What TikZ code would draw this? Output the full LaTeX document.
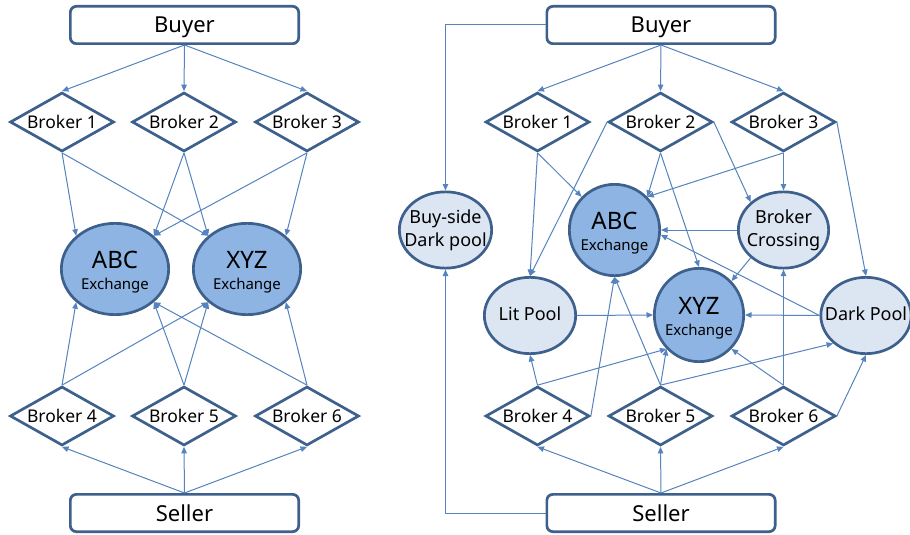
\documentclass[tikz,border=0pt]{standalone}
\usepackage{fontspec}
\setmainfont{Noto Sans}
\usetikzlibrary{shapes.geometric,arrows.meta}

\definecolor{edgeblue}{RGB}{62,96,140}
\definecolor{linkblue}{RGB}{84,131,190}
\definecolor{exfill}{RGB}{141,180,226}
\definecolor{poolfill}{RGB}{220,230,242}

% centred text of zero width, so the shape keeps its own size
\newcommand{\ctrtext}[1]{\makebox[0pt]{\begin{tabular}{@{}c@{}}#1\end{tabular}}}

\begin{document}
\begin{tikzpicture}[x=1pt,y=-1pt,
  party/.style={draw=edgeblue, line width=2.7pt, rounded corners=6pt, fill=white,
    minimum width=228.3pt, minimum height=37.3pt, inner sep=0pt, text depth=0pt,
    font=\fontsize{22}{26}\selectfont},
  broker/.style={diamond, aspect=1.75, draw=edgeblue, line width=2.7pt, fill=white,
    minimum width=104pt, minimum height=59pt, inner sep=0pt,
    font=\fontsize{17.5}{20}\selectfont},
  exch/.style={ellipse, draw=edgeblue, line width=2.7pt, fill=exfill, inner sep=0pt,
    font=\fontsize{15}{21}\selectfont},
  pool/.style={ellipse, draw=edgeblue, line width=2.7pt, fill=poolfill, inner sep=0pt,
    minimum width=90.3pt, minimum height=76.3pt, font=\fontsize{18}{23}\selectfont},
  conn/.style={draw=linkblue, line width=1pt, -{Triangle[length=6.5pt,width=5.5pt]}},
]
\useasboundingbox (0,0) rectangle (910,535);

\newcommand{\exlabel}[1]{\ctrtext{\rule{0pt}{26pt}{\fontsize{24}{24}\selectfont #1}\\Exchange}}

% ---------------- direct market ----------------
\node[party] (buyL) at (184.5,25) {Buyer};
\node[party] (sellL) at (184.5,513) {Seller};

\node[broker] (b1) at (62,122) {Broker 1};
\node[broker] (b2) at (184,122) {Broker 2};
\node[broker] (b3) at (307,122) {Broker 3};
\node[broker] (b4) at (62,416) {Broker 4};
\node[broker] (b5) at (184,416) {Broker 5};
\node[broker] (b6) at (307,416) {Broker 6};

\node[exch, minimum width=107.3pt, minimum height=91.3pt] (abcL) at (115,269) {\exlabel{ABC}};
\node[exch, minimum width=107.3pt, minimum height=91.3pt] (xyzL) at (247,269) {\exlabel{XYZ}};

\foreach \b in {b1,b2,b3} \draw[conn] (buyL.south) -- (\b.north);
\foreach \b in {b4,b5,b6} \draw[conn] (sellL.north) -- (\b.south);

\draw[conn] (b1.south) -- (abcL.north west);
\draw[conn] (b1.south) -- (xyzL.north west);
\draw[conn] (b2.south) -- (abcL.north east);
\draw[conn] (b2.south) -- (xyzL.north west);
\draw[conn] (b3.south) -- (abcL.north east);
\draw[conn] (b3.south) -- (xyzL.north east);
\draw[conn] (b4.north) -- (abcL.south west);
\draw[conn] (b4.north) -- (xyzL.south west);
\draw[conn] (b5.north) -- (abcL.south east);
\draw[conn] (b5.north) -- (xyzL.south west);
\draw[conn] (b6.north) -- (abcL.south east);
\draw[conn] (b6.north) -- (xyzL.south east);

% ---------------- fragmented market ----------------
\node[party] (buyR) at (661,25) {Buyer};
\node[party] (sellR) at (661,513) {Seller};

\node[broker] (r1) at (537.5,122) {Broker 1};
\node[broker] (r2) at (660.5,122) {Broker 2};
\node[broker] (r3) at (783.5,122) {Broker 3};
\node[broker] (r4) at (537.5,416) {Broker 4};
\node[broker] (r5) at (660.5,416) {Broker 5};
\node[broker] (r6) at (783.5,416) {Broker 6};

\node[exch, minimum width=90.3pt, minimum height=91.3pt] (abcR) at (614.5,230) {\exlabel{ABC}};
\node[exch, minimum width=89.3pt, minimum height=93.3pt] (xyzR) at (699,315) {\exlabel{XYZ}};

\node[pool, minimum width=92.3pt] (bsdp) at (445.5,230) {\ctrtext{Buy-side\\Dark pool}};
\node[pool] (bcx) at (783.5,230) {\ctrtext{Broker\\Crossing}};
\node[pool, minimum width=91.3pt] (lit) at (530,315.5) {\ctrtext{Lit Pool}};
\node[pool] (dark) at (866,315.5) {\ctrtext{Dark Pool}};

\foreach \b in {r1,r2,r3} \draw[conn] (buyR.south) -- (\b.north);
\foreach \b in {r4,r5,r6} \draw[conn] (sellR.north) -- (\b.south);
\draw[conn] (buyR.west) -| (bsdp.north);
\draw[conn] (sellR.west) -| (bsdp.south);

\draw[conn] (r1.south) -- (lit.north);
\draw[conn] (r1.south) -- (abcR.north west);
\draw[conn] (r2.west) -- (lit.north);
\draw[conn] (r2.south) -- (abcR.north east);
\draw[conn] (r2.south) -- (xyzR.north);
\draw[conn] (r2.east) -- (bcx.north west);
\draw[conn] (r3.south) -- (bcx.north);
\draw[conn] (r3.south) -- (abcR.north east);
\draw[conn] (r3.east) -- (dark.north);

\draw[conn] (bcx.west) -- (abcR.east);
\draw[conn] (bcx.south west) -- (xyzR.north east);
\draw[conn] (dark.west) -- (xyzR.east);
\draw[conn] (dark.west) -- (abcR.-6);
\draw[conn] (lit.east) -- (xyzR.west);

\draw[conn] (r4.north) -- (lit.south);
\draw[conn] (r4.north) -- (xyzR.south west);
\draw[conn] (r4.east) -- (abcR.south);
\draw[conn] (r5.north) -- (abcR.south);
\draw[conn] (r5.north) -- (xyzR.south west);
\draw[conn] (r5.north) -- (dark.south west);
\draw[conn] (r6.north) -- (bcx.south);
\draw[conn] (r6.north) -- (xyzR.south east);
\draw[conn] (r6.east) -- (dark.south);
\end{tikzpicture}
\end{document}
